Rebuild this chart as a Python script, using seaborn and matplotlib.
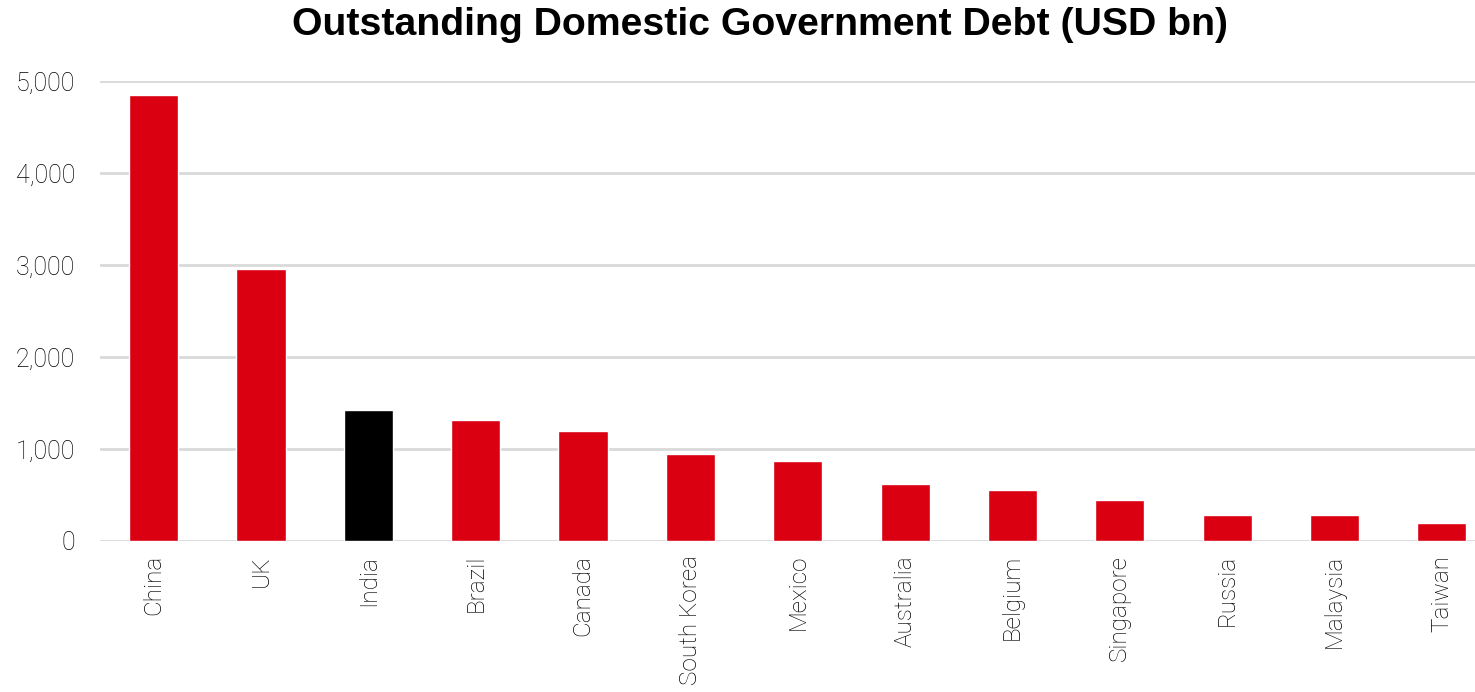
import matplotlib
matplotlib.use("Agg")
import matplotlib.pyplot as plt
import seaborn as sns
import pandas as pd

countries = ["China", "UK", "India", "Brazil", "Canada", "South Korea", "Mexico",
             "Australia", "Belgium", "Singapore", "Russia", "Malaysia", "Taiwan"]
debt = [4845, 2960, 1425, 1310, 1200, 945, 868, 620, 550, 443, 280, 280, 192]
yticks = [0, 1000, 2000, 3000, 4000, 5000]
ytick_labels = ["0", "1,000", "2,000", "3,000", "4,000", "5,000"]

sns.set_theme(style="white")
plt.rcParams['font.family'] = ['Roboto', 'DejaVu Sans']

df = pd.DataFrame({"country": countries, "debt": debt})
palette = {c: ("#000000" if c == "India" else "#DB0011") for c in countries}

fig = plt.figure(figsize=(14.75, 6.92), dpi=100)
ax = fig.add_axes([100/1475, 1 - 541/692, (1475-100)/1475, (541-81)/692])
sns.barplot(data=df, x="country", y="debt", hue="country", palette=palette,
            order=countries, legend=False, width=0.457, saturation=1, ax=ax, zorder=3)

ax.set_ylim(0, 5000)
ax.set_xlim(-0.5, 12.31)
ax.set_yticks(yticks)
ax.set_yticklabels(ytick_labels, fontsize=18, fontweight='light', color='black')
ax.set_xticks(range(len(countries)))
ax.set_xticklabels(countries, rotation=90, fontsize=17.5, fontweight='light', color='black')
ax.tick_params(axis='x', length=0, pad=10)
ax.tick_params(axis='y', length=0, pad=18)
ax.yaxis.grid(True, color='#d9d9d9', linewidth=2, zorder=0)
ax.set_axisbelow(True)
for s in ax.spines.values():
    s.set_visible(False)
ax.set_xlabel("")
ax.set_ylabel("")
fig.text(760/1475, 1 - 25/692, "Outstanding Domestic Government Debt (USD bn)",
         ha='center', va='center', fontsize=28.3, fontweight='bold', color='black',
         family=['Liberation Sans', 'DejaVu Sans'])

fig.savefig("out.png", dpi=100)
